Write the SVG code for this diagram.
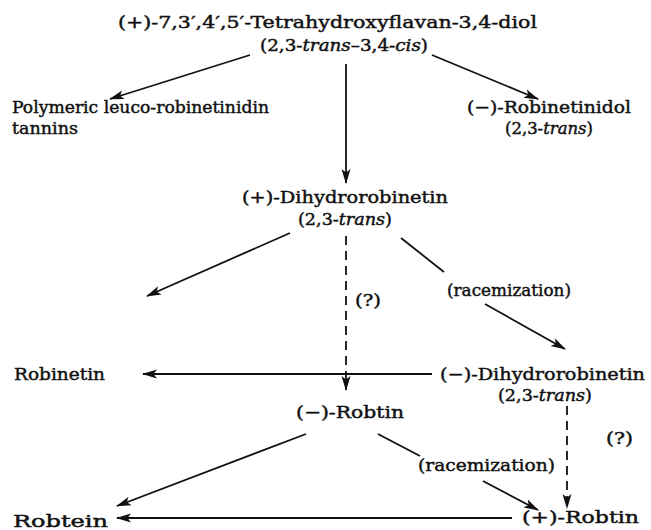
<svg xmlns="http://www.w3.org/2000/svg" width="651" height="530" viewBox="0 0 651 530">
<style>
text{font-family:"DejaVu Serif","Liberation Serif",serif;font-size:17px;fill:#111;stroke:#111;stroke-width:0.45px;}
.i{font-style:italic;}
.c{stroke:#111;stroke-width:1.8;fill:none;}
.d{stroke-dasharray:9 6;}
</style>
<defs>
<marker id="ah" markerUnits="userSpaceOnUse" markerWidth="16" markerHeight="10" refX="14" refY="5" orient="auto">
<path d="M0,0.5 L15,5 L0,9.5 L3.5,5 z" fill="#111"/>
</marker>
</defs>
<rect width="651" height="530" fill="#fff"/>
<g id="connectors">
<line class="c" x1="250" y1="55" x2="110" y2="99" marker-end="url(#ah)"/>
<line class="c" x1="432" y1="55" x2="538" y2="99" marker-end="url(#ah)"/>
<line class="c" x1="346" y1="64" x2="346" y2="183" marker-end="url(#ah)"/>
<line class="c" x1="290" y1="233" x2="147" y2="296" marker-end="url(#ah)"/>
<line class="c" x1="401" y1="238" x2="444" y2="272"/>
<line class="c" x1="485" y1="304" x2="565" y2="349" marker-end="url(#ah)"/>
<line class="c d" x1="346" y1="236" x2="346" y2="390" marker-end="url(#ah)"/>
<line class="c" x1="432" y1="374" x2="143" y2="374" marker-end="url(#ah)"/>
<line class="c" x1="306" y1="434" x2="117" y2="506" marker-end="url(#ah)"/>
<line class="c" x1="378" y1="434" x2="420" y2="456"/>
<line class="c" x1="483" y1="481" x2="538" y2="510" marker-end="url(#ah)"/>
<line class="c d" x1="567" y1="406" x2="567" y2="508" marker-end="url(#ah)"/>
<line class="c" x1="512" y1="518" x2="117" y2="518" marker-end="url(#ah)"/>
</g>
<g id="n-diol">
<text x="118" y="28" textLength="419" lengthAdjust="spacingAndGlyphs">(+)-7,3′,4′,5′-Tetrahydroxyflavan-3,4-diol</text>
<text x="260" y="51" textLength="168" lengthAdjust="spacingAndGlyphs">(2,3-<tspan class="i">trans</tspan>–3,4-<tspan class="i">cis</tspan>)</text>
</g>
<g id="n-polymeric">
<text x="12" y="113" textLength="257" lengthAdjust="spacingAndGlyphs">Polymeric leuco-robinetinidin</text>
<text x="12" y="134" textLength="66" lengthAdjust="spacingAndGlyphs">tannins</text>
</g>
<g id="n-robinetinidol">
<text x="467" y="113" textLength="164" lengthAdjust="spacingAndGlyphs">(−)-Robinetinidol</text>
<text x="505" y="134" textLength="88" lengthAdjust="spacingAndGlyphs">(2,3-<tspan class="i">trans</tspan>)</text>
</g>
<g id="n-dihydro-plus">
<text x="242" y="203" textLength="206" lengthAdjust="spacingAndGlyphs">(+)-Dihydrorobinetin</text>
<text x="298" y="225" textLength="94" lengthAdjust="spacingAndGlyphs">(2,3-<tspan class="i">trans</tspan>)</text>
</g>
<g id="l-racem1">
<text x="447" y="296" textLength="124" lengthAdjust="spacingAndGlyphs">(racemization)</text>
</g>
<g id="l-q1">
<text x="355" y="306" textLength="26" lengthAdjust="spacingAndGlyphs">(?)</text>
</g>
<g id="n-robinetin">
<text x="14" y="380" textLength="91" lengthAdjust="spacingAndGlyphs">Robinetin</text>
</g>
<g id="n-dihydro-minus">
<text x="440" y="380" textLength="205" lengthAdjust="spacingAndGlyphs">(−)-Dihydrorobinetin</text>
<text x="498" y="401" textLength="94" lengthAdjust="spacingAndGlyphs">(2,3-<tspan class="i">trans</tspan>)</text>
</g>
<g id="n-robtin-minus">
<text x="296" y="418" textLength="108" lengthAdjust="spacingAndGlyphs">(−)-Robtin</text>
</g>
<g id="l-q2">
<text x="606" y="444" textLength="27" lengthAdjust="spacingAndGlyphs">(?)</text>
</g>
<g id="l-racem2">
<text x="418" y="471" textLength="137" lengthAdjust="spacingAndGlyphs">(racemization)</text>
</g>
<g id="n-robtein">
<text x="13" y="527" textLength="95" lengthAdjust="spacingAndGlyphs">Robtein</text>
</g>
<g id="n-robtin-plus">
<text x="522" y="523" textLength="117" lengthAdjust="spacingAndGlyphs">(+)-Robtin</text>
</g>
</svg>
